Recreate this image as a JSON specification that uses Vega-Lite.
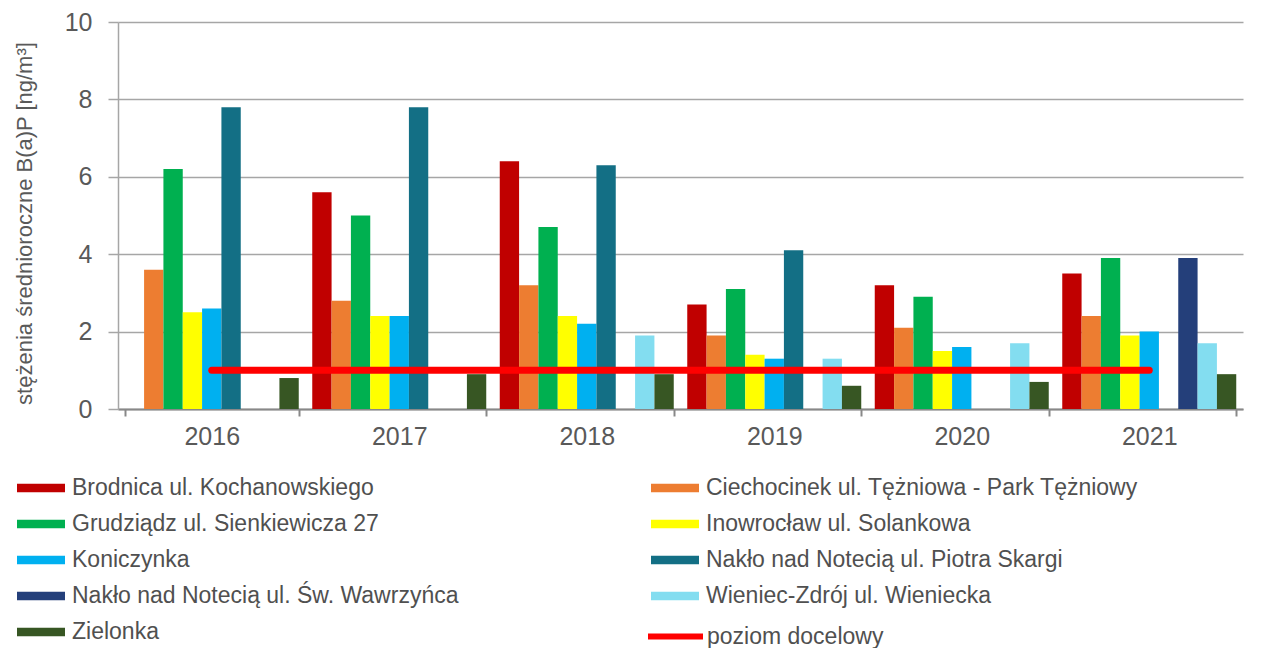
{
  "$schema": "https://vega.github.io/schema/vega-lite/v6.json",
  "width": 1125,
  "height": 387,
  "autosize": {"type": "none"},
  "padding": {"left": 118, "top": 22, "right": 34, "bottom": 239},
  "background": "white",
  "config": {
    "view": {"stroke": null},
    "font": "Liberation Sans"
  },
  "datasets": {
    "bars": [
      {"year": "2016", "series": "Ciechocinek ul. Tężniowa - Park Tężniowy", "value": 3.6},
      {"year": "2016", "series": "Grudziądz ul. Sienkiewicza 27", "value": 6.2},
      {"year": "2016", "series": "Inowrocław ul. Solankowa", "value": 2.5},
      {"year": "2016", "series": "Koniczynka", "value": 2.6},
      {"year": "2016", "series": "Nakło nad Notecią ul. Piotra Skargi", "value": 7.8},
      {"year": "2016", "series": "Zielonka", "value": 0.8},
      {"year": "2017", "series": "Brodnica ul. Kochanowskiego", "value": 5.6},
      {"year": "2017", "series": "Ciechocinek ul. Tężniowa - Park Tężniowy", "value": 2.8},
      {"year": "2017", "series": "Grudziądz ul. Sienkiewicza 27", "value": 5.0},
      {"year": "2017", "series": "Inowrocław ul. Solankowa", "value": 2.4},
      {"year": "2017", "series": "Koniczynka", "value": 2.4},
      {"year": "2017", "series": "Nakło nad Notecią ul. Piotra Skargi", "value": 7.8},
      {"year": "2017", "series": "Zielonka", "value": 0.9},
      {"year": "2018", "series": "Brodnica ul. Kochanowskiego", "value": 6.4},
      {"year": "2018", "series": "Ciechocinek ul. Tężniowa - Park Tężniowy", "value": 3.2},
      {"year": "2018", "series": "Grudziądz ul. Sienkiewicza 27", "value": 4.7},
      {"year": "2018", "series": "Inowrocław ul. Solankowa", "value": 2.4},
      {"year": "2018", "series": "Koniczynka", "value": 2.2},
      {"year": "2018", "series": "Nakło nad Notecią ul. Piotra Skargi", "value": 6.3},
      {"year": "2018", "series": "Wieniec-Zdrój ul. Wieniecka", "value": 1.9},
      {"year": "2018", "series": "Zielonka", "value": 0.9},
      {"year": "2019", "series": "Brodnica ul. Kochanowskiego", "value": 2.7},
      {"year": "2019", "series": "Ciechocinek ul. Tężniowa - Park Tężniowy", "value": 1.9},
      {"year": "2019", "series": "Grudziądz ul. Sienkiewicza 27", "value": 3.1},
      {"year": "2019", "series": "Inowrocław ul. Solankowa", "value": 1.4},
      {"year": "2019", "series": "Koniczynka", "value": 1.3},
      {"year": "2019", "series": "Nakło nad Notecią ul. Piotra Skargi", "value": 4.1},
      {"year": "2019", "series": "Wieniec-Zdrój ul. Wieniecka", "value": 1.3},
      {"year": "2019", "series": "Zielonka", "value": 0.6},
      {"year": "2020", "series": "Brodnica ul. Kochanowskiego", "value": 3.2},
      {"year": "2020", "series": "Ciechocinek ul. Tężniowa - Park Tężniowy", "value": 2.1},
      {"year": "2020", "series": "Grudziądz ul. Sienkiewicza 27", "value": 2.9},
      {"year": "2020", "series": "Inowrocław ul. Solankowa", "value": 1.5},
      {"year": "2020", "series": "Koniczynka", "value": 1.6},
      {"year": "2020", "series": "Wieniec-Zdrój ul. Wieniecka", "value": 1.7},
      {"year": "2020", "series": "Zielonka", "value": 0.7},
      {"year": "2021", "series": "Brodnica ul. Kochanowskiego", "value": 3.5},
      {"year": "2021", "series": "Ciechocinek ul. Tężniowa - Park Tężniowy", "value": 2.4},
      {"year": "2021", "series": "Grudziądz ul. Sienkiewicza 27", "value": 3.9},
      {"year": "2021", "series": "Inowrocław ul. Solankowa", "value": 1.9},
      {"year": "2021", "series": "Koniczynka", "value": 2.0},
      {"year": "2021", "series": "Nakło nad Notecią ul. Św. Wawrzyńca", "value": 3.9},
      {"year": "2021", "series": "Wieniec-Zdrój ul. Wieniecka", "value": 1.7},
      {"year": "2021", "series": "Zielonka", "value": 0.9}
    ],
    "target": [
      {"year": "2016", "series": "poziom docelowy", "value": 1},
      {"year": "2017", "series": "poziom docelowy", "value": 1},
      {"year": "2018", "series": "poziom docelowy", "value": 1},
      {"year": "2019", "series": "poziom docelowy", "value": 1},
      {"year": "2020", "series": "poziom docelowy", "value": 1},
      {"year": "2021", "series": "poziom docelowy", "value": 1}
    ]
  },
  "layer": [
    {
      "data": {"name": "bars"},
      "mark": {"type": "bar"},
      "encoding": {
        "x": {
          "field": "year", "type": "nominal",
          "scale": {"paddingInner": 0.072, "paddingOuter": 0.036},
          "axis": {
            "title": null, "labelAngle": 0,
            "labelFontSize": 25, "labelColor": "#595959", "labelPadding": 8,
            "tickBand": "extent", "tickSize": 7, "tickColor": "#888888", "tickWidth": 2,
            "domainColor": "#888888", "domainWidth": 2
          }
        },
        "xOffset": {
          "field": "series", "type": "nominal",
          "scale": {
            "domain": ["Brodnica ul. Kochanowskiego", "Ciechocinek ul. Tężniowa - Park Tężniowy", "Grudziądz ul. Sienkiewicza 27", "Inowrocław ul. Solankowa", "Koniczynka", "Nakło nad Notecią ul. Piotra Skargi", "Nakło nad Notecią ul. Św. Wawrzyńca", "Wieniec-Zdrój ul. Wieniecka", "Zielonka"],
            "paddingInner": 0, "paddingOuter": 0
          }
        },
        "y": {
          "field": "value", "type": "quantitative",
          "scale": {"domain": [0, 10], "nice": false},
          "axis": {
            "title": "stężenia średnioroczne B(a)P [ng/m³]",
            "titleFontSize": 22, "titleFontWeight": "normal", "titleColor": "#595959",
            "titleAngle": -90, "titleX": -94, "titleY": 201, "titleAlign": "center", "titleBaseline": "middle",
            "values": [0, 2, 4, 6, 8, 10],
            "labelFontSize": 25, "labelColor": "#595959", "labelPadding": 16,
            "tickSize": 10, "tickColor": "#A6A6A6", "tickWidth": 1.5,
            "grid": true, "gridColor": "#A6A6A6", "gridWidth": 1.5,
            "domainColor": "#A6A6A6", "domainWidth": 1.5
          }
        },
        "fill": {
          "field": "series", "type": "nominal",
          "scale": {
            "domain": ["Brodnica ul. Kochanowskiego", "Ciechocinek ul. Tężniowa - Park Tężniowy", "Grudziądz ul. Sienkiewicza 27", "Inowrocław ul. Solankowa", "Koniczynka", "Nakło nad Notecią ul. Piotra Skargi", "Nakło nad Notecią ul. Św. Wawrzyńca", "Wieniec-Zdrój ul. Wieniecka", "Zielonka"],
            "range": ["#C00000", "#ED7D31", "#00B050", "#FFFF00", "#00B0F0", "#136F85", "#243F7A", "#83DDF0", "#375623"]
          },
          "legend": {
            "title": null, "orient": "none", "legendX": -101, "legendY": 442,
            "direction": "horizontal", "columns": 2, "columnPadding": 192, "rowPadding": -6,
            "symbolType": "M-1,-0.18H1V0.18H-1Z", "symbolSize": 2304, "symbolStrokeWidth": 0,
            "labelFontSize": 23, "labelColor": "#505050", "labelOffset": 7, "labelLimit": 700
          }
        }
      }
    },
    {
      "data": {"name": "target"},
      "mark": {"type": "line", "strokeWidth": 7, "strokeCap": "round"},
      "encoding": {
        "x": {"field": "year", "type": "nominal"},
        "y": {"field": "value", "type": "quantitative"},
        "stroke": {
          "field": "series", "type": "nominal",
          "scale": {"domain": ["poziom docelowy"], "range": ["#FF0000"]},
          "legend": {
            "title": null, "orient": "none", "legendX": 527, "legendY": 584,
            "symbolType": "stroke", "symbolSize": 3025, "symbolStrokeWidth": 6,
            "labelFontSize": 23, "labelColor": "#505050", "labelOffset": 1, "labelLimit": 700
          }
        }
      }
    }
  ]
}
